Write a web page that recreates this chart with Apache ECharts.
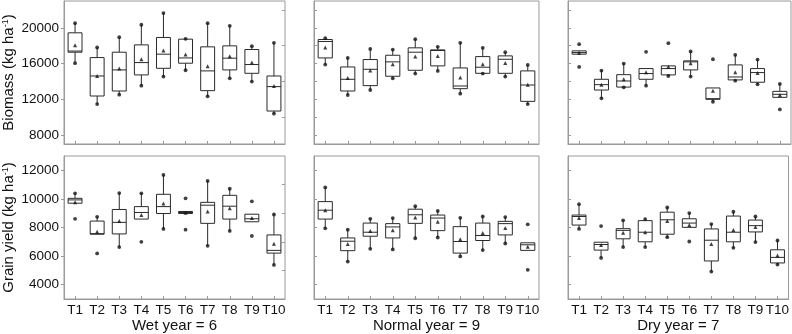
<!DOCTYPE html>
<html>
<head>
<meta charset="utf-8">
<script src="https://cdn.jsdelivr.net/npm/echarts@6/dist/echarts.min.js"></script>
<style>
html,body{margin:0;padding:0;background:#fff;}
#chart{width:792px;height:334px;}
</style>
</head>
<body>
<div id="chart"></div>
<script>
const categories = ['T1','T2','T3','T4','T5','T6','T7','T8','T9','T10'];
const panelTitles = ['Wet year = 6', 'Normal year = 9', 'Dry year = 7'];
const rowNames = ['Biomass (kg ha{sup|-1})', 'Grain yield (kg ha{sup|-1})'];
const biomassTicks = [8000, 12000, 16000, 20000];
const biomassMinorTicks = [10000, 14000, 18000, 22000];
const grainTicks = [4000, 6000, 8000, 10000, 12000];
const grainMinorTicks = [5000, 7000, 9000, 11000];

// Wet year biomass
const wetBioWLo = [16040,11470,12520,13530,14540,15250,12330,14350,13980,10390];
const wetBioQ1  = [17270,12370,12930,14730,15470,16040,12970,15290,14910,10690];
const wetBioMed = [17400,14610,15290,16110,17050,16630,15180,16600,15890,13420];
const wetBioQ3  = [19440,16670,17270,18090,18920,18730,17870,17980,17570,14610];
const wetBioWHi = [20520,17800,18950,20340,21650,18770,20520,20220,17940,18320];
const wetBioMean= [18050,14600,15440,16480,17460,17010,15700,16820,16110,13490];
const wetBioDLo = [16040,11470,12520,13530,14540,15250,12330,14350,13980,10390];
const wetBioDHi = [20520,17800,18950,20340,21650,18770,20520,20220,17940,18320];

// Normal year biomass
const norBioWLo = [15890,12480,13040,14350,14880,15180,12630,14880,14540,11470];
const norBioQ1  = [16630,12930,13530,14580,15250,15740,13190,14910,14910,11770];
const norBioMed = [18470,14240,15360,16190,17270,17460,13490,15590,16480,13600];
const norBioQ3  = [18690,15620,16450,16930,17760,17530,15510,16780,16860,15180];
const norBioWHi = [18840,16630,17640,17570,18730,17870,18320,17760,17270,15850];
const norBioMean= [17800,14390,15210,15920,16780,16860,14430,15920,16070,13640];
const norBioDLo = [15890,12480,13040,14350,14880,15180,12630,14880,14540,11470];
const norBioDHi = [18840,16630,17640,17570,18730,17870,18320,17760,17270,15850];

// Dry year biomass
const dryBioWLo = [17050,12110,13340,13530,14610,14540,11730,14090,13680,12220];
const dryBioQ1  = [17050,13040,13370,14240,14730,15290,12000,14170,13910,12220];
const dryBioMed = [17230,13640,14050,14880,15440,16190,12070,14500,14990,12560];
const dryBioQ3  = [17420,14240,14760,15440,15740,16300,13270,15850,15440,12890];
const dryBioWHi = [17420,15210,16000,15440,15740,17350,13270,16970,16450,13720];
const dryBioMean= [17200,13640,14240,15030,15650,16040,12970,15030,14950,12480];
const dryBioDLo = [15620,12110,13340,13530,14610,14540,11730,14090,13680,10870];
const dryBioDHi = [18170,15210,16000,17310,18280,17350,16480,16970,16450,13720];

// Wet year grain yield
const wetGrWLo = [9700,7530,6630,8590,7900,8980,6720,7760,8400,5380];
const wetGrQ1  = [9700,7530,7550,8590,8980,8980,8290,8590,8400,6210];
const wetGrMed = [9930,7570,8360,9050,9460,9050,9560,9490,8610,6400];
const wetGrQ3  = [10040,8450,9260,9460,10320,9120,9760,10250,8930,7480];
const wetGrWHi = [10390,8750,10410,10390,11680,9120,11260,10710,8930,8910];
const wetGrMean= [9760,7710,8450,8870,9670,9030,9120,9350,8660,6860];
const wetGrDLo = [8610,6190,6630,7000,7900,7850,6720,7760,7410,5380];
const wetGrDHi = [10390,8750,10410,10390,11680,10040,11260,10710,9830,8910];

// Normal year grain yield
const norGrWLo = [7940,5620,6510,6470,7250,7300,5980,6420,6880,6400];
const norGrQ1  = [8590,6380,7390,7270,8290,7780,6210,7090,7480,6400];
const norGrMed = [9210,7040,7670,8040,8890,8660,7020,7440,8270,6790];
const norGrQ3  = [9810,7270,8310,8270,9280,8870,8060,8310,8430,6930];
const norGrWHi = [10800,7850,8610,8660,9490,9160,8680,8770,8730,6930];
const norGrMean= [9210,6840,7760,7810,8700,8410,7180,7620,7970,6650];
const norGrDLo = [7940,5620,6510,6470,7250,7300,5980,6420,6880,5040];
const norGrDHi = [10800,7850,8610,8660,9490,9160,8680,8770,8730,8220];

// Dry year grain yield
const dryGrWLo = [7900,5870,6630,6630,7320,8010,4920,6580,6980,5410];
const dryGrQ1  = [8170,6420,7210,7000,7530,8010,5660,7000,7690,5520];
const dryGrMed = [8770,6810,7800,7670,8540,8310,7110,7670,8130,5910];
const dryGrQ3  = [8870,6970,7920,8480,9070,8610,7900,8800,8520,6440];
const dryGrWHi = [9630,6970,8500,8590,9400,9010,8240,9100,8770,7090];
const dryGrMean= [8660,6770,7640,7670,8450,8170,6840,7830,8040,6050];
const dryGrDLo = [7900,5870,6630,6630,7320,7020,4920,6580,6980,5410];
const dryGrDHi = [9630,8100,8500,8590,9400,9010,8240,9100,8770,7090];

const panels = [
  [wetBioWLo,wetBioQ1,wetBioMed,wetBioQ3,wetBioWHi,wetBioMean,wetBioDLo,wetBioDHi],
  [norBioWLo,norBioQ1,norBioMed,norBioQ3,norBioWHi,norBioMean,norBioDLo,norBioDHi],
  [dryBioWLo,dryBioQ1,dryBioMed,dryBioQ3,dryBioWHi,dryBioMean,dryBioDLo,dryBioDHi],
  [wetGrWLo,wetGrQ1,wetGrMed,wetGrQ3,wetGrWHi,wetGrMean,wetGrDLo,wetGrDHi],
  [norGrWLo,norGrQ1,norGrMed,norGrQ3,norGrWHi,norGrMean,norGrDLo,norGrDHi],
  [dryGrWLo,dryGrQ1,dryGrMed,dryGrQ3,dryGrWHi,dryGrMean,dryGrDLo,dryGrDHi]
];

const FONT = 'Liberation Sans, Arial, sans-serif';
const FRAME = '#9a9a9a';
const INK = '#2a2a2a';
const lefts = [61, 314, 568];
const widths = [224, 225, 223];
const tops = [1, 156];
const H = 143;

const grid = [], xAxis = [], yAxis = [], series = [];
for (let r = 0; r < 2; r++) {
  for (let c = 0; c < 3; c++) {
    const gi = r * 3 + c;
    grid.push({left: lefts[c], top: tops[r], width: widths[c], height: H,
      show: true, borderColor: FRAME, borderWidth: 1, backgroundColor: 'transparent'});
    xAxis.push({
      type: 'category', gridIndex: gi, data: categories, boundaryGap: true,
      axisLine: {show: true, lineStyle: {color: FRAME, width: 1}},
      axisTick: {show: true, inside: true, length: 3, alignWithLabel: true, lineStyle: {color: FRAME}},
      axisLabel: {show: r === 1, fontSize: 13.5, color: '#111', fontFamily: FONT, margin: 4, interval: 0},
      splitLine: {show: false},
      name: r === 1 ? panelTitles[c] : '', nameLocation: 'middle', nameGap: 18,
      nameTextStyle: {fontSize: 15, color: '#111', fontFamily: FONT}
    });
    const isBio = r === 0;
    const major = isBio ? biomassTicks : grainTicks;
    const minor = isBio ? biomassMinorTicks : grainMinorTicks;
    const all = major.concat(minor).sort((a, b) => a - b);
    yAxis.push({
      type: 'value', gridIndex: gi, min: isBio ? 7000 : 3000, max: isBio ? 23000 : 13000,
      axisLine: {show: true, lineStyle: {color: FRAME, width: 1}},
      axisTick: {show: true, inside: c !== 0, length: 3, lineStyle: {color: FRAME},
        customValues: c === 0 ? major : (isBio ? all : major)},
      axisLabel: {show: c === 0, customValues: major, fontSize: 13.5, color: '#111', fontFamily: FONT, margin: 5,
        formatter: v => String(v)},
      splitLine: {show: false},
      name: c === 0 ? rowNames[r] : '', nameLocation: 'middle', nameGap: 48, nameRotate: 90,
      nameTextStyle: {fontSize: 15, color: '#111', fontFamily: FONT,
        rich: {sup: {fontSize: 9, verticalAlign: 'top', color: '#111', fontFamily: FONT, padding: [0, 0, 6, 0]}}}
    });
    const d = panels[gi];
    const boxData = categories.map((cat, i) => [i, d[0][i], d[1][i], d[2][i], d[3][i], d[4][i]]);
    series.push({
      type: 'custom', xAxisIndex: gi, yAxisIndex: gi, data: boxData,
      encode: {x: 0, y: [1, 2, 3, 4, 5]},
      renderItem: function (params, api) {
        const x = api.value(0);
        const band = api.size([1, 0])[0];
        const w = band * 0.63;
        const pLo = api.coord([x, api.value(1)]);
        const pQ1 = api.coord([x, api.value(2)]);
        const pMed = api.coord([x, api.value(3)]);
        const pQ3 = api.coord([x, api.value(4)]);
        const pHi = api.coord([x, api.value(5)]);
        const cx = pMed[0];
        const st = {stroke: INK, lineWidth: 1, fill: null};
        return {type: 'group', children: [
          {type: 'line', shape: {x1: cx, y1: pQ3[1], x2: cx, y2: pHi[1]}, style: st},
          {type: 'line', shape: {x1: cx, y1: pQ1[1], x2: cx, y2: pLo[1]}, style: st},
          {type: 'rect', shape: {x: cx - w / 2, y: pQ3[1], width: w, height: pQ1[1] - pQ3[1]}, style: {stroke: INK, lineWidth: 1, fill: '#fff'}},
          {type: 'line', shape: {x1: cx - w / 2, y1: pMed[1], x2: cx + w / 2, y2: pMed[1]}, style: st}
        ]};
      },
      silent: true, animation: false, z: 2
    });
    const dots = [];
    categories.forEach((cat, i) => { dots.push([i, d[6][i]]); dots.push([i, d[7][i]]); });
    series.push({type: 'scatter', xAxisIndex: gi, yAxisIndex: gi, data: dots,
      symbol: 'circle', symbolSize: 3.8, itemStyle: {color: '#111'}, silent: true, animation: false, z: 3});
    series.push({type: 'scatter', xAxisIndex: gi, yAxisIndex: gi,
      data: categories.map((cat, i) => [i, d[5][i]]),
      symbol: 'triangle', symbolSize: 4, itemStyle: {color: '#111'}, silent: true, animation: false, z: 4});
  }
}
// minor inward ticks for first column
[[0, biomassMinorTicks, 7000, 23000], [3, grainMinorTicks, 3000, 13000]].forEach(([gi, vals, mn, mx]) => {
  yAxis.push({type: 'value', gridIndex: gi, min: mn, max: mx,
    axisLine: {show: false}, axisLabel: {show: false}, splitLine: {show: false},
    axisTick: {show: true, inside: true, length: 3, lineStyle: {color: FRAME}, customValues: vals}});
});

const chart = echarts.init(document.getElementById('chart'), null, {renderer: 'canvas'});
chart.setOption({animation: false, backgroundColor: '#fff', textStyle: {fontFamily: FONT},
  grid, xAxis, yAxis, series});
</script>
</body>
</html>
